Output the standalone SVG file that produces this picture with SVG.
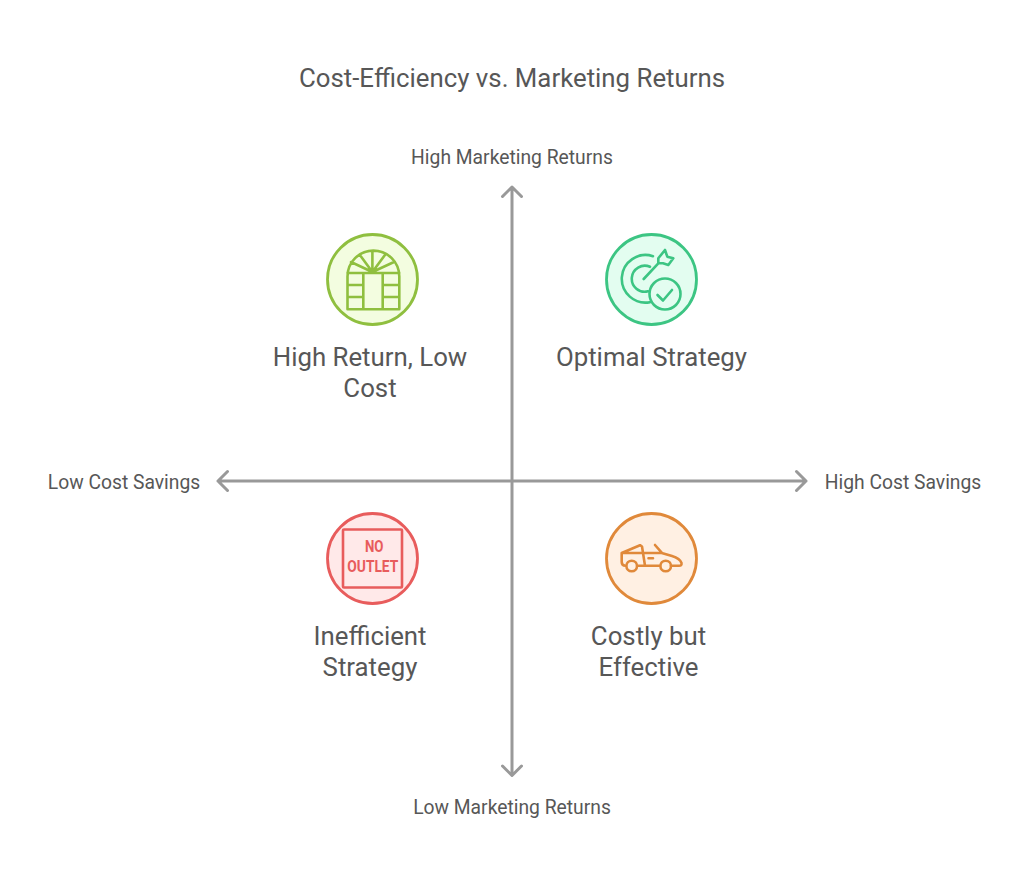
<svg xmlns="http://www.w3.org/2000/svg" width="1024" height="885" viewBox="0 0 1024 885">
<defs>
<style>
text{font-family:Roboto,"Liberation Sans",sans-serif;fill:#575757;text-anchor:middle}
.title{font-size:25.800px}
.axis{font-size:19.300px}
.label{font-size:25.800px}
.sign{fill:#e85c5c;font-size:17px;font-weight:700}
.ax{fill:none;stroke:#999999;stroke-width:3;stroke-linecap:round;stroke-linejoin:round}
.ic{fill:none;stroke-width:2.6;stroke-linecap:round;stroke-linejoin:round}
.ring{stroke-width:2.800}
.g{stroke:#8fbf3f}.t{stroke:#3cc583}.r{stroke:#e85c5c}.o{stroke:#e0893a}
</style>
</defs>
<rect width="1024" height="885" fill="#ffffff"/>
<text class="title" x="512" y="87">Cost-Efficiency vs. Marketing Returns</text>
<g id="connectors">
<path class="ax" d="M512 187V775M502.500 196.500L512 187L521.500 196.500M502.500 766L512 775.500L521.500 766"/>
<path class="ax" d="M218 481H806M227.500 471.500L218 481L227.500 490.500M796.500 471.500L806 481L796.500 490.500"/>
</g>
<g id="axis-labels">
<text class="axis" x="512" y="163.500">High Marketing Returns</text>
<text class="axis" x="512" y="813.500">Low Marketing Returns</text>
<text class="axis" x="124" y="488.500">Low Cost Savings</text>
<text class="axis" x="903" y="488.500">High Cost Savings</text>
</g>
<g id="node-high-return">
<circle class="ring g" cx="372.500" cy="279.500" r="45" fill="#f3fde0"/>
<path class="ic g" d="M347.500 309.300V276.500A25.800 25.800 0 0 1 399.300 276.500V309.300ZM347.500 273H399.300M347.500 285H363.300M347.500 297H363.300M382.700 285H399.300M382.700 297H399.300M363.300 273V309.300M382.700 273V309.300M372.400 272V251M372.400 272L359.500 254.500M372.400 272L385.300 254.500M372.400 272L351 262M372.400 272L394 262"/>
<text class="label" x="370" y="366">High Return, Low</text>
<text class="label" x="370" y="397">Cost</text>
</g>
<g id="node-optimal">
<circle class="ring t" cx="651.500" cy="279.500" r="45" fill="#e3fdf0"/>
<path class="ic t" d="M653 256.200A23.800 23.800 0 1 0 650 302.200M650 266.800A13 13 0 1 0 648 291.300M643.700 279L658.300 263.300M658.300 263.300L658.300 258.300L665 250L667.300 256.700L673.300 258.300L668.300 265L663 263.300L658.300 263.300"/>
<circle class="ic t" cx="665" cy="294" r="15.500"/>
<path class="ic t" d="M657.500 295L663 300.500L672 290"/>
<text class="label" x="651.500" y="366">Optimal Strategy</text>
</g>
<g id="node-inefficient">
<circle class="ring r" cx="372.500" cy="558.500" r="45" fill="#ffe9e9"/>
<rect class="ic r" x="343" y="529.500" width="59" height="58" rx="1"/>
<text class="sign" x="374.200" y="551.500" textLength="18.500" lengthAdjust="spacingAndGlyphs">NO</text>
<text class="sign" x="372.800" y="571.500" textLength="51" lengthAdjust="spacingAndGlyphs">OUTLET</text>
<text class="label" x="370" y="645">Inefficient</text>
<text class="label" x="370" y="676">Strategy</text>
</g>
<g id="node-costly">
<circle class="ring o" cx="651.500" cy="558.500" r="45" fill="#fff0e3"/>
<path class="ic o" d="M621.700 553H661.700L672 556Q680 558.500 681.500 563Q682 565.700 679 565.700H671M659.500 565.700H638M625.500 565.700Q621.700 565.700 621.700 562V553L640 545.200L642 546.500L645 565.700M655 545L661.700 552.700M648.500 558.300H653"/>
<circle class="ic o" cx="631.700" cy="566" r="5.300"/>
<circle class="ic o" cx="665.700" cy="566" r="5.300"/>
<text class="label" x="648.500" y="645">Costly but</text>
<text class="label" x="648.500" y="676">Effective</text>
</g>
</svg>
